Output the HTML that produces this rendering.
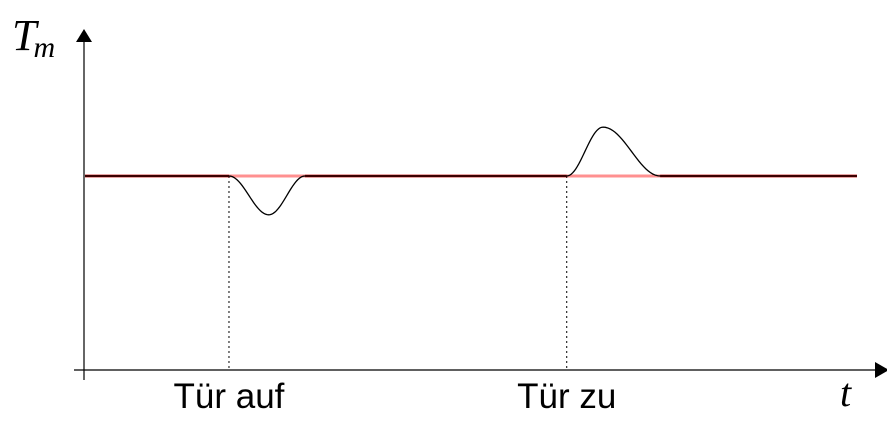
<!DOCTYPE html>
<html><head><meta charset="utf-8"><style>
html,body{margin:0;padding:0;background:#fff;}
svg{display:block;}
</style></head><body>
<svg id="chart" width="887" height="424" viewBox="0 0 887 424" xmlns="http://www.w3.org/2000/svg">
<g id="axes">
<line x1="74" y1="370" x2="876" y2="370" stroke="#000" stroke-width="1.2"/>
<polygon points="889,370 875,362 875,378" fill="#000"/>
<line x1="84" y1="380" x2="84" y2="40" stroke="#000" stroke-width="1.2"/>
<polygon points="84,29 76,42 92,42" fill="#000"/>
<text x="12" y="50" font-family="'Liberation Serif',serif" font-style="italic" font-size="44">T<tspan font-size="30" dy="7" dx="-3">m</tspan></text>
<text x="840" y="406" font-family="'Liberation Serif',serif" font-style="italic" font-size="40">t</text>
</g>
<g id="marks"></g>
</svg>
<script>
const categories = ["Tür auf", "Tür zu"];
const eventTimes = [18.65, 62.4];
const setpoint = [50];
const seriesT = [0, 18.65, 23.8, 28.5, 62.4, 67.1, 74.5, 100];
const seriesTm = [50, 50, 40, 50, 50, 62.6, 50, 50];

const xS = t => 85 + t * 7.72;
const yS = v => 370 - v * 3.88;
const NS = "http://www.w3.org/2000/svg";
const g = document.getElementById('marks');
function mk(tag, attrs){const e=document.createElementNS(NS,tag);for(const k in attrs)e.setAttribute(k,attrs[k]);g.appendChild(e);return e;}

const sp = mk('line',{x1:xS(0),x2:xS(100),y1:yS(setpoint[0]),y2:yS(setpoint[0]),stroke:'#ff9090','stroke-width':3});



eventTimes.forEach((t,i)=>{
  const l = mk('line',{x1:xS(t),x2:xS(t),y1:yS(setpoint[0]),y2:370,stroke:'#000','stroke-width':1,'stroke-dasharray':'2,3'});
  
  
  const tx = mk('text',{x:xS(t),y:408,'text-anchor':'middle','font-family':"'Liberation Sans',sans-serif",'font-size':35});
  tx.textContent = categories[i];
  
  
});

for(let i=0;i<seriesT.length-1;i++){
  if(seriesTm[i]===setpoint[0] && seriesTm[i+1]===setpoint[0]){
    const r = mk('line',{x1:xS(seriesT[i]),x2:xS(seriesT[i+1]),y1:yS(seriesTm[i]),y2:yS(seriesTm[i+1]),stroke:'#a00000','stroke-width':2.6});
    
    
  }
}
let d = `M${xS(seriesT[0])},${yS(seriesTm[0])}`;
for(let i=0;i<seriesT.length-1;i++){
  const N=24;
  for(let k=1;k<=N;k++){
    const f=k/N;
    const w=(1-Math.cos(Math.PI*f))/2;
    const t=seriesT[i]+(seriesT[i+1]-seriesT[i])*f;
    const v=seriesTm[i]+(seriesTm[i+1]-seriesTm[i])*w;
    d+=` L${xS(t).toFixed(2)},${yS(v).toFixed(2)}`;
  }
}
const c = mk('path',{d:d,fill:'none',stroke:'#000','stroke-width':1.3});


</script>
</body></html>
